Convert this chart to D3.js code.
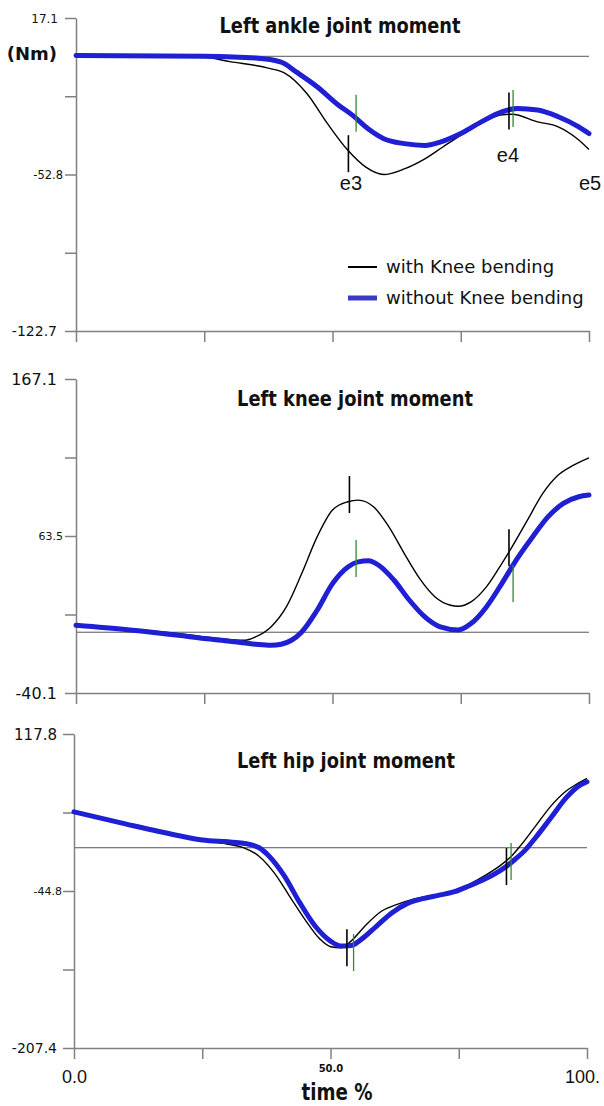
<!DOCTYPE html>
<html>
<head>
<meta charset="utf-8">
<script src="https://cdn.jsdelivr.net/npm/d3@7"></script>
<style>
  body { margin: 0; background: #fff; }
  svg { display: block; }
</style>
</head>
<body>
<svg id="chart" width="604" height="1106"></svg>
<script>
// ---- data ----
const timeTicks = [0, 25, 50, 75, 100];
const timeTickLabels = ['0.0', '', '50.0', '', '100.'];

const panelTitles = ['Left ankle joint moment', 'Left knee joint moment', 'Left hip joint moment'];
const yTopValues = [17.1, 167.1, 117.8];
const yBottomValues = [-122.7, -40.1, -207.4];
const ankleTickLabels = ['17.1', '', '-52.8', '', '-122.7'];
const kneeTickLabels = ['167.1', '', '63.5', '', '-40.1'];
const hipTickLabels = ['117.8', '', '-44.8', '', '-207.4'];

const seriesNames = ['with Knee bending', 'without Knee bending'];

// [time %, moment Nm]
const ankleWith = [[0,0.5],[15,0],[25,-0.5],[30,-2.4],[37.7,-5.4],[40.7,-7.5],[45,-16.6],[49,-30],[53,-42],[56.5,-49.5],[60,-52.8],[64,-50.3],[68,-45.8],[71.5,-40.5],[75,-35.3],[79,-30],[82.7,-26.3],[85,-25.9],[90,-29.3],[94,-31.5],[97.7,-36.8],[100,-41.6]];
const ankleWithout = [[0,0.4],[25,0],[35,-0.8],[40,-2.6],[43,-7.1],[47,-13.6],[51,-21.5],[54,-26.5],[57,-32.5],[60,-36.8],[64,-39],[68,-39.8],[71,-38.3],[75,-34.5],[79,-29.3],[83,-24.8],[86,-23.3],[90,-24],[94,-27],[98,-31.5],[100,-34.5]];

const kneeWith = [[0,4.6],[10,2.4],[20,-0.9],[25,-3.1],[30,-4.9],[33,-5.3],[35,-3.1],[38,3.5],[41,16.7],[44,38.7],[47,62.9],[50,80.6],[53,86.1],[55,87.2],[58,82.8],[61,69.5],[64,51.9],[67,35.4],[70,23.3],[73,17.8],[74.5,17.1],[77,20],[80,29.9],[83,45.3],[85,56.3],[88,74],[91,91.6],[94,103.7],[97,110.3],[100,115.1]];
const kneeWithout = [[0,4.6],[10,1.7],[20,-2],[25,-4.2],[30,-5.9],[35,-7.9],[38,-8.6],[40,-7.9],[42,-5.3],[44,0.2],[47,14.5],[50,32.1],[53,43.1],[55,46.4],[57,47.1],[59,44.2],[62,34.3],[65,21.1],[68,10.1],[71,3.5],[74.5,1.5],[77,5.7],[80,16.7],[83,32.1],[86,48.6],[89,62.9],[92,76.1],[95,85],[98,89.4],[100,90.5]];

const hipWith = [[0,37.2],[5,31.3],[10,25.4],[15,19.2],[20,13],[25,8.1],[30,3.6],[33,0.2],[36,-8.5],[39,-25.8],[42,-50],[45,-74.2],[48,-94.9],[50,-102.5],[52,-103.6],[54,-96.7],[57,-79.4],[60,-65.5],[63,-58.6],[66,-53.4],[70,-49.3],[74,-44.8],[77,-37.9],[80,-29.2],[83,-18.8],[85,-10.2],[87,1.9],[90,22.7],[93,43.4],[96,59],[98,65.9],[100,71.8]];
const hipWithout = [[0,37.2],[10,24.7],[20,13],[25,8.1],[30,6.1],[33,4.7],[36,0.2],[38,-8.5],[41,-29.2],[44,-56.9],[47,-81.1],[50,-96.7],[52,-101.8],[54,-101.2],[56,-94.9],[59,-81.1],[62,-67.3],[65,-57.6],[68,-52.7],[71,-49.3],[74,-45.8],[77,-39.6],[80,-32.7],[83,-24],[86,-11.9],[88,-2.2],[90,10.6],[93,31.3],[96,52.1],[98,62.5],[100,68.3]];

// event markers: [time %, centre value]
const ankleMarksWith = [[53.1,-43.5],[84.4,-24.4]];
const ankleMarksWithout = [[54.6,-25.4],[85.2,-23.3]];
const kneeMarksWith = [[53.3,90.9],[84.4,55.7]];
const kneeMarksWithout = [[54.6,48.6],[85.2,32.1]];
const hipMarksWith = [[53.2,-103.6],[84.3,-19.5]];
const hipMarksWithout = [[54.5,-108.5],[85.2,-14.3]];

const eventLabels = ['e3', 'e4', 'e5'];
const eventLabelAt = [[53.6,-56.6],[84.2,-44.1],[100.2,-56.6]];

// ---- layout ----
const panels = [
  { left: 76, right: 589, top: 18, bottom: 331, ticks: ankleTickLabels, with: ankleWith, without: ankleWithout,
    mWith: ankleMarksWith, mWithout: ankleMarksWithout,
    title: { x: 340, y: 33, w: 241 }, labelDx: [-18, -13, -19], labelSize: [12, 11.5, 14] },
  { left: 76, right: 589, top: 379, bottom: 693, ticks: kneeTickLabels, with: kneeWith, without: kneeWithout,
    mWith: kneeMarksWith, mWithout: kneeMarksWithout,
    title: { x: 355, y: 406, w: 236 }, labelDx: [-19, -13, -19], labelSize: [16, 11, 16] },
  { left: 74, right: 587, top: 734, bottom: 1048, ticks: hipTickLabels, with: hipWith, without: hipWithout,
    mWith: hipMarksWith, mWithout: hipMarksWithout,
    title: { x: 346, y: 768, w: 218 }, labelDx: [-17, -12, -17], labelSize: [15, 11, 14] }
];

const axisColor = '#808080';
const blue = '#1f1fd4';
const green = '#2e8b2e';
const titleFont = '"Liberation Sans Narrow", "DejaVu Sans Condensed", "Arial Narrow", sans-serif';

const svg = d3.select('#chart');

panels.forEach((p, i) => {
  const x = d3.scaleLinear().domain([0, 100]).range([p.left, p.right]);
  const y = d3.scaleLinear().domain([yBottomValues[i], yTopValues[i]]).range([p.bottom, p.top]);
  const g = svg.append('g');

  // zero line
  g.append('line')
    .attr('x1', x(0)).attr('x2', x(100))
    .attr('y1', y(0)).attr('y2', y(0))
    .attr('stroke', '#555').attr('stroke-width', 1);

  // y axis
  const yTicks = d3.range(5).map(k => yTopValues[i] + (yBottomValues[i] - yTopValues[i]) * k / 4);
  const yAxis = g.append('g')
    .attr('transform', `translate(${p.left},0)`)
    .call(d3.axisLeft(y).tickValues(yTicks).tickSize(11).tickSizeOuter(0)
      .tickFormat((d, k) => p.ticks[k]));
  yAxis.selectAll('text')
    .attr('x', (d, k) => p.labelDx[k / 2 | 0])
    .attr('dy', '0.34em')
    .attr('fill', '#111')
    .style('font-family', '"DejaVu Sans", sans-serif')
    .style('font-size', (d, k) => p.labelSize[k / 2 | 0] + 'px');

  // x axis
  const xAxis = g.append('g')
    .attr('transform', `translate(0,${p.bottom})`)
    .call(d3.axisBottom(x).tickValues(timeTicks).tickSize(11).tickSizeOuter(0)
      .tickFormat((d, k) => i === 2 ? timeTickLabels[k] : ''));
  xAxis.selectAll('text')
    .attr('fill', '#111')
    .attr('y', (d, k) => k === 2 ? 24 : 35)
    .attr('x', (d, k) => k === 4 ? -5 : 0)
    .attr('dy', 0)
    .style('font-family', (d, k) => k === 2 ? '"DejaVu Sans", sans-serif' : '"Liberation Sans", Arial, sans-serif')
    .style('font-weight', (d, k) => k === 2 ? 'bold' : 'normal')
    .style('font-size', (d, k) => k === 2 ? '10px' : '18px');

  svg.selectAll('.domain, .tick line')
    .attr('stroke', axisColor).attr('stroke-width', 1.5);

  // curves
  const line = d3.line().x(d => x(d[0])).y(d => y(d[1])).curve(d3.curveMonotoneX);
  g.append('path').datum(p.with)
    .attr('d', line).attr('fill', 'none')
    .attr('stroke', '#000').attr('stroke-width', 1.4);
  g.append('path').datum(p.without)
    .attr('d', line).attr('fill', 'none')
    .attr('stroke', blue).attr('stroke-width', 5)
    .attr('stroke-linecap', 'round').attr('stroke-linejoin', 'round');

  // event markers
  g.selectAll('.mw').data(p.mWith).join('line')
    .attr('x1', d => x(d[0])).attr('x2', d => x(d[0]))
    .attr('y1', d => y(d[1]) - 18.5).attr('y2', d => y(d[1]) + 18.5)
    .attr('stroke', '#000').attr('stroke-width', 1.6);
  g.selectAll('.mo').data(p.mWithout).join('line')
    .attr('x1', d => x(d[0])).attr('x2', d => x(d[0]))
    .attr('y1', d => y(d[1]) - 18.5).attr('y2', d => y(d[1]) + 18.5)
    .attr('stroke', green).attr('stroke-width', 1.3);

  // title
  g.append('text')
    .attr('x', p.title.x).attr('y', p.title.y)
    .attr('text-anchor', 'middle')
    .attr('textLength', p.title.w).attr('lengthAdjust', 'spacingAndGlyphs')
    .style('font-family', titleFont).style('font-weight', 'bold').style('font-size', '21px')
    .attr('fill', '#111')
    .text(panelTitles[i]);

  if (i === 0) {
    g.selectAll('.ev').data(eventLabels).join('text')
      .attr('x', (d, k) => x(eventLabelAt[k][0]))
      .attr('y', (d, k) => y(eventLabelAt[k][1]))
      .attr('text-anchor', 'middle').attr('dy', '0.35em')
      .style('font-family', '"Liberation Sans", Arial, sans-serif').style('font-size', '20px')
      .attr('fill', '#111')
      .text(d => d);
  }
});

// unit label
svg.append('text')
  .attr('x', 57).attr('y', 54).attr('dy', '0.35em')
  .attr('text-anchor', 'end')
  .style('font-family', '"DejaVu Sans", sans-serif').style('font-weight', 'bold').style('font-size', '18px')
  .attr('fill', '#111')
  .text('(Nm)');

// x label
svg.append('text')
  .attr('x', 337).attr('y', 1100)
  .attr('text-anchor', 'middle')
  .attr('textLength', 71).attr('lengthAdjust', 'spacingAndGlyphs')
  .style('font-family', titleFont).style('font-weight', 'bold').style('font-size', '23px')
  .attr('fill', '#111')
  .text('time %');

// legend
const legend = svg.append('g');
const legendRows = [
  { y: 267, color: '#000', width: 2 },
  { y: 298, color: '#3a3ac4', width: 5 }
];
legend.selectAll('line').data(seriesNames).join('line')
  .attr('x1', 348).attr('x2', 377)
  .attr('y1', (d, k) => legendRows[k].y).attr('y2', (d, k) => legendRows[k].y)
  .attr('stroke', (d, k) => legendRows[k].color)
  .attr('stroke-width', (d, k) => legendRows[k].width);
legend.selectAll('text').data(seriesNames).join('text')
  .attr('x', 386).attr('y', (d, k) => legendRows[k].y)
  .attr('dy', '0.36em')
  .style('font-family', '"DejaVu Sans", sans-serif').style('font-size', '18px')
  .attr('fill', '#111')
  .text(d => d);
</script>
</body>
</html>
